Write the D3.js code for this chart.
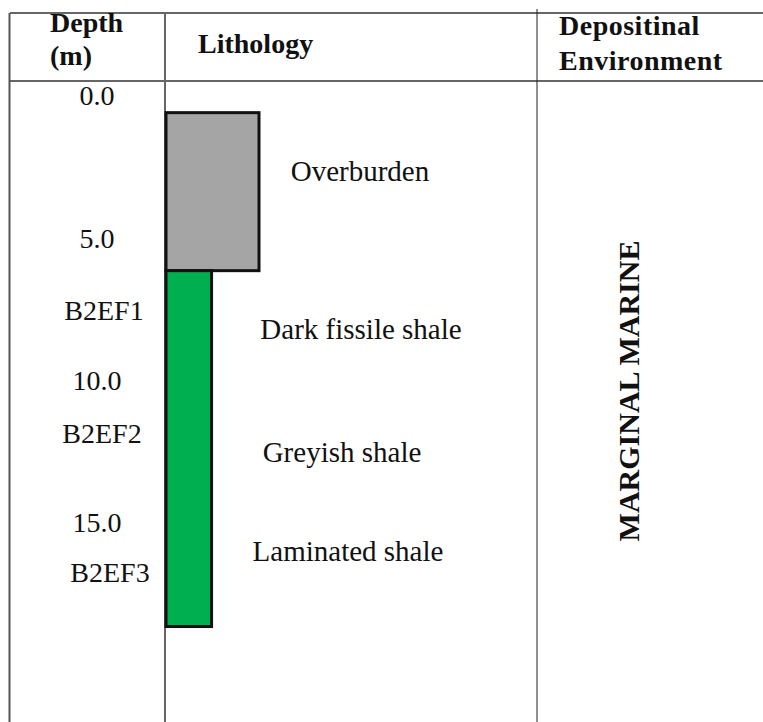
<!DOCTYPE html>
<html>
<head>
<meta charset="utf-8">
<script src="https://cdn.jsdelivr.net/npm/d3@7"></script>
<style>
  html, body { margin: 0; padding: 0; background: #fff; }
  svg { display: block; }
  text { font-family: "Liberation Serif", "Times New Roman", serif; fill: #111; }
</style>
</head>
<body>
<script>
// ---- data ----
const depthTicks = [0, 5, 10, 15];
const depthTickLabels = ["0.0", "5.0", "10.0", "15.0"];
const sampleNames = ["B2EF1", "B2EF2", "B2EF3"];
const sampleDepths = [7.55, 11.85, 16.75];
const unitNames = ["Overburden", "Fissile shale unit"];
const unitTops = [0.55, 6.1];
const unitBases = [6.1, 18.6];
const unitColors = ["#a5a5a5", "#00b050"];
const unitWidths = [1, 0.49]; // relative width of the column bar
const descriptions = ["Overburden", "Dark fissile shale", "Greyish shale", "Laminated shale"];
const descriptionDepths = [2.63, 8.2, 12.5, 16.0];
const headers = [["Depth", "(m)"], ["Lithology"], ["Depositinal", "Environment"]];
const environment = "MARGINAL MARINE";

// ---- layout ----
const W = 763, H = 722;
const svg = d3.select("body").append("svg").attr("width", W).attr("height", H);

const y = d3.scaleLinear().domain([0, 22]).range([97, 97 + 28.47 * 22]);
const barX = d3.scaleLinear().domain([0, 1]).range([166, 259]);

// table lines
const g = svg.append("g");
g.append("line").attr("x1", 10).attr("x2", W).attr("y1", 13).attr("y2", 13)
  .attr("stroke", "#333").attr("stroke-width", 1.5);
g.append("line").attr("x1", 10).attr("x2", W).attr("y1", 81).attr("y2", 81)
  .attr("stroke", "#333").attr("stroke-width", 1.5);
g.append("line").attr("x1", 9.5).attr("x2", 9.5).attr("y1", 13).attr("y2", H)
  .attr("stroke", "#555").attr("stroke-width", 2);
g.append("line").attr("x1", 165).attr("x2", 165).attr("y1", 13).attr("y2", H)
  .attr("stroke", "#666").attr("stroke-width", 2);
g.append("line").attr("x1", 537).attr("x2", 537).attr("y1", 9).attr("y2", H)
  .attr("stroke", "#222").attr("stroke-width", 1);

// headers
const headerX = [50, 198, 559];
const headerY = [[32, 65], [53], [35, 70]];
headers.forEach((lines, i) => {
  lines.forEach((t, j) => {
    svg.append("text").attr("x", headerX[i]).attr("y", headerY[i][j])
      .attr("font-size", 28).attr("font-weight", "bold")
      .attr("letter-spacing", i === 2 ? 0.5 : 0)
      .text(t);
  });
});

// depth labels
svg.append("g").selectAll("text").data(depthTicks).join("text")
  .attr("x", 97).attr("y", d => y(d)).attr("dy", "0.3em")
  .attr("text-anchor", "middle").attr("font-size", 28)
  .text((d, i) => depthTickLabels[i]);

// sample labels
const sampleNudge = [104, 102, 110];
svg.append("g").selectAll("text").data(sampleDepths).join("text")
  .attr("x", (d, i) => sampleNudge[i]).attr("y", d => y(d)).attr("dy", "0.3em")
  .attr("text-anchor", "middle").attr("font-size", 28)
  .text((d, i) => sampleNames[i]);

// lithology bars
svg.append("g").selectAll("rect").data(unitTops).join("rect")
  .attr("x", barX(0))
  .attr("y", d => y(d))
  .attr("width", (d, i) => barX(unitWidths[i]) - barX(0))
  .attr("height", (d, i) => y(unitBases[i]) - y(d))
  .attr("fill", (d, i) => unitColors[i])
  .attr("stroke", "#111").attr("stroke-width", 3);

// descriptions
const descX = [360, 361, 342, 348];
svg.append("g").selectAll("text").data(descriptionDepths).join("text")
  .attr("x", (d, i) => descX[i]).attr("y", d => y(d)).attr("dy", "0.3em")
  .attr("text-anchor", "middle").attr("font-size", 29)
  .text((d, i) => descriptions[i]);

// environment
svg.append("text")
  .attr("transform", `translate(639, ${391}) rotate(-90)`)
  .attr("text-anchor", "middle").attr("font-size", 30).attr("font-weight", "bold")
  .text(environment);
</script>
</body>
</html>
